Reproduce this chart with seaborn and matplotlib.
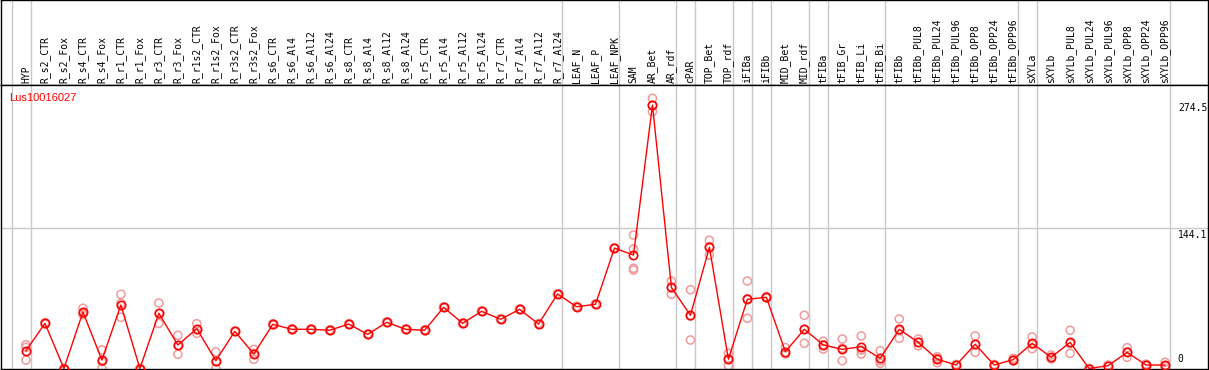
import numpy as np
import pandas as pd
import matplotlib
matplotlib.use('Agg')
import matplotlib.pyplot as plt
import matplotlib.transforms as mtransforms
import seaborn as sns

# --- dados ---
gene = 'Lus10016027'

samples = ['HYP',
           'R_s2_CTR', 'R_s2_Fox', 'R_s4_CTR', 'R_s4_Fox', 'R_r1_CTR', 'R_r1_Fox', 'R_r3_CTR', 'R_r3_Fox',
           'R_r1s2_CTR', 'R_r1s2_Fox', 'R_r3s2_CTR', 'R_r3s2_Fox',
           'R_s6_CTR', 'R_s6_Al4', 'R_s6_Al12', 'R_s6_Al24', 'R_s8_CTR', 'R_s8_Al4', 'R_s8_Al12', 'R_s8_Al24',
           'R_r5_CTR', 'R_r5_Al4', 'R_r5_Al12', 'R_r5_Al24', 'R_r7_CTR', 'R_r7_Al4', 'R_r7_Al12', 'R_r7_Al24',
           'LEAF_N', 'LEAF_P', 'LEAF_NPK',
           'SAM', 'AR_Bet', 'AR_rdf',
           'cPAR',
           'TOP_Bet', 'TOP_rdf',
           'iFIBa',
           'iFIBb',
           'MID_Bet', 'MID_rdf',
           'tFIBa',
           'tFIB_Gr', 'tFIB_Li', 'tFIB_Bi',
           'tFIBb', 'tFIBb_PUL8', 'tFIBb_PUL24', 'tFIBb_PUL96', 'tFIBb_OPP8', 'tFIBb_OPP24', 'tFIBb_OPP96',
           'sXYLa',
           'sXYLb', 'sXYLb_PUL8', 'sXYLb_PUL24', 'sXYLb_PUL96', 'sXYLb_OPP8', 'sXYLb_OPP24', 'sXYLb_OPP96']

# tamanho de cada grupo (separado por linhas verticais)
group_sizes = [1, 28, 3, 3, 1, 2, 1, 1, 2, 1, 3, 7, 1, 7]

mean_expr = [18.3,
             46.4, 0.0, 58.0, 8.7, 65.3, 0.0, 56.7, 24.2,
             40.9, 8.0, 38.2, 14.9,
             45.4, 40.3, 40.3, 39.3, 45.7, 35.1, 47.5, 40.3,
             39.3, 62.9, 46.4, 58.8, 50.6, 60.8, 45.7, 76.6,
             63.5, 66.0, 123.8,
             116.6, 270.8, 83.3,
             54.7,
             124.6, 9.5,
             71.1,
             73.2,
             17.3, 40.3,
             24.2,
             19.7, 22.4, 10.5,
             40.3, 26.9, 9.5, 3.6, 24.9, 3.6, 9.1,
             25.9,
             11.5, 26.9, 0.0, 2.9, 16.6, 3.6, 3.6]

rep_a = [24.5,
         47.0, 0.0, 61.9, 19.0, 76.3, 0.0, 67.3, 34.1,
         46.0, 17.0, 38.5, 19.7,
         46.0, 40.8, 40.0, 39.8, 46.2, 35.5, 48.0, 40.8,
         39.8, 63.3, 46.9, 59.2, 51.0, 61.2, 46.2, 77.0,
         64.0, 66.4, 124.2,
         137.2, 277.7, 89.9,
         81.0,
         131.8, 15.6,
         89.9,
         74.0,
         21.4, 54.7,
         28.0,
         30.3, 33.4, 18.3,
         50.9, 30.3, 12.1, 4.2, 33.4, 4.2, 10.5,
         32.4,
         13.9, 39.3, 0.0, 3.5, 21.4, 4.5, 6.4]

rep_b = [21.7,
         46.2, 0.0, 56.7, 7.0, 67.0, 0.0, 56.4, 23.6,
         40.0, 7.0, 38.0, 15.5,
         45.2, 40.1, 40.5, 39.0, 45.5, 34.8, 47.2, 40.0,
         39.0, 62.6, 46.0, 58.5, 50.3, 60.5, 45.3, 76.2,
         63.2, 65.7, 123.5,
         122.8, 270.7, 83.0,
         53.8,
         125.4, 10.0,
         71.8,
         73.0,
         15.0, 40.3,
         24.5,
         20.8, 18.9, 7.9,
         39.0, 26.9, 10.4, 3.4, 24.7, 3.4, 8.8,
         24.9,
         11.0, 25.7, 0.0, 2.8, 17.0, 3.5, 2.5]

rep_c = [8.7,
         46.0, 0.0, 55.4, 0.0, 52.6, 0.0, 46.4, 14.6,
         36.2, 0.0, 38.1, 9.5,
         45.0, 40.0, 40.4, 39.1, 45.4, 35.0, 47.3, 40.1,
         39.1, 62.8, 46.3, 58.7, 50.5, 60.7, 45.6, 76.5,
         63.3, 65.9, 123.7,
         103.0, 264.0, 76.3,
         29.3,
         116.6, 2.9,
         51.6,
         72.6,
         15.6, 25.9,
         20.0,
         8.0, 14.9, 5.3,
         31.0, 23.4, 6.0, 3.2, 16.6, 3.2, 8.0,
         20.4,
         9.8, 15.6, 0.0, 2.4, 11.5, 2.9, 2.0]

# quarta réplica (só SAM)
rep_d = [np.nan] * 32 + [101.2] + [np.nan] * 28

y_ticks = [274.5, 144.1, 0]

# --- montagem ---
x = np.arange(len(samples))
df_mean = pd.DataFrame({'x': x, 'y': mean_expr})
df_rep = pd.concat([pd.DataFrame({'x': x, 'y': r}) for r in (rep_a, rep_b, rep_c, rep_d)]).dropna()

bounds = np.concatenate([[-1], np.cumsum(group_sizes) - 1]) + 0.24
xlim = ((1 - 26) / 19, (1209 - 26) / 19)

W, H = 1209, 370
fig = plt.figure(figsize=(W / 100, H / 100), dpi=100)
ax_lab = fig.add_axes([1 / W, (H - 85) / H, 1207 / W, 85 / H])
ax = fig.add_axes([1 / W, 1.3 / H, 1207 / W, (368.7 - 85) / H])

grid_c = '#c8c8c8'
for a in (ax_lab, ax):
    a.set_xlim(*xlim)
    for b in bounds:
        a.axvline(b, color=grid_c, lw=1, zorder=0)
    a.set_xticks([])
    a.set_yticks([])
    for s in a.spines.values():
        s.set_color('black')
        s.set_linewidth(1)

# rótulos das amostras
ax_lab.set_ylim(0, 1)
for xi, name in zip(x, samples):
    ax_lab.text(xi, 0.025, name, rotation=90, ha='center', va='bottom',
                fontsize=7, family='DejaVu Sans Mono', color='black')

# área dos dados
ax.set_ylim(-0.2, 291.4)
ax.axhline(144.1, color=grid_c, lw=1, zorder=0)

sns.scatterplot(data=df_rep, x='x', y='y', ax=ax, marker='o', s=34,
                facecolors='none', edgecolor='#f09a9a', linewidth=1.1, zorder=2, legend=False)
sns.lineplot(data=df_mean, x='x', y='y', ax=ax, color='#ff0000', lw=1, marker='o',
             markersize=6, markerfacecolor='none', markeredgecolor='#ff0000',
             markeredgewidth=1.2, zorder=3, legend=False)
ax.set_xlabel('')
ax.set_ylabel('')

trans = mtransforms.blended_transform_factory(ax.transAxes, ax.transData)
for v in y_ticks:
    if v == 0:
        ax.annotate('0', (0.975, v), xycoords=trans, xytext=(0, 3), textcoords='offset points',
                    ha='left', va='bottom', fontsize=7, family='DejaVu Sans Mono')
    else:
        ax.annotate(f'{v}', (0.975, v), xycoords=trans, xytext=(0, -1), textcoords='offset points',
                    ha='left', va='top', fontsize=7, family='DejaVu Sans Mono')

ax.text(8 / 1207, 1 - 8 / 283.7, gene, transform=ax.transAxes, color='#ff0000',
        fontsize=8, family='Liberation Sans', ha='left', va='top')

fig.savefig('out.png', dpi=100)
